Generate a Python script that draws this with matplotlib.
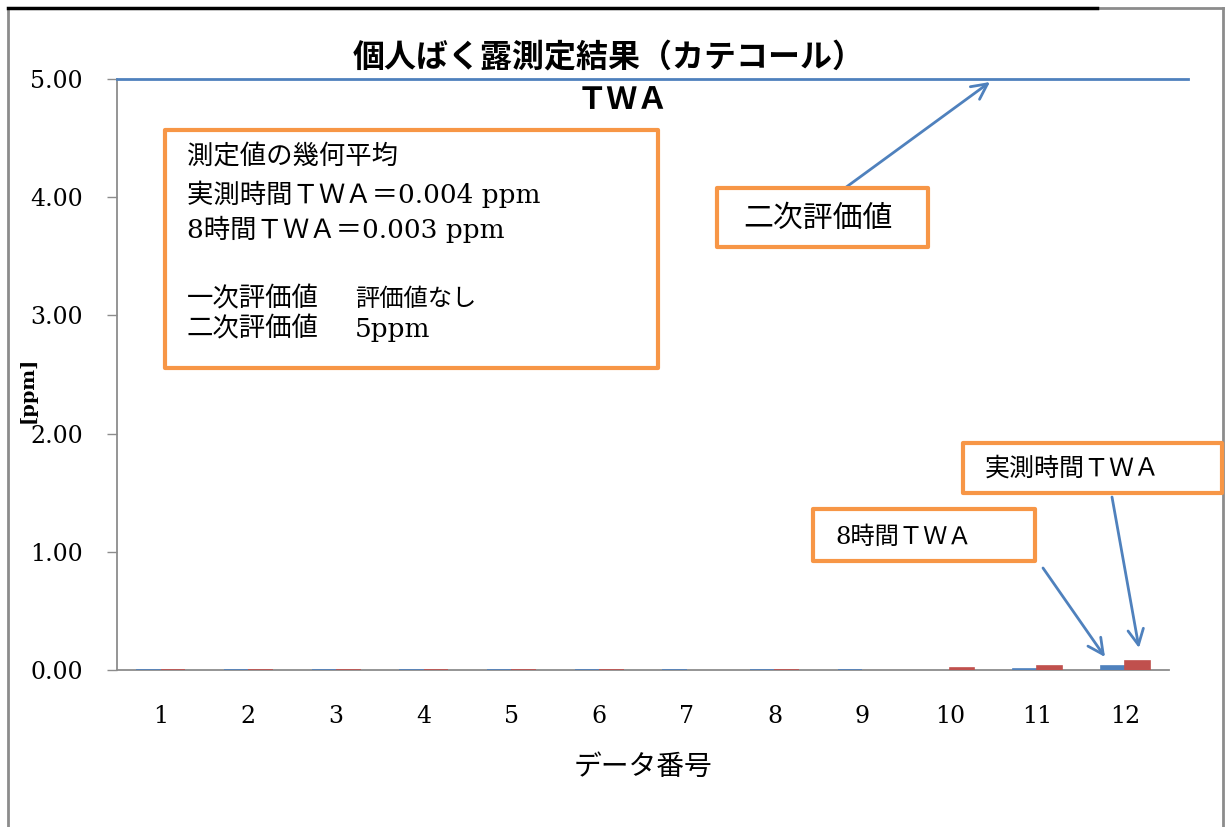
import matplotlib
matplotlib.use("Agg")
import matplotlib.pyplot as plt
import numpy as np
from matplotlib.patches import Rectangle
from matplotlib.lines import Line2D

# ---- data ----
categories = [str(i) for i in range(1, 13)]
twa_8h = [0.001, 0.001, 0.001, 0.001, 0.001, 0.001, 0.001, 0.001, 0.001, np.nan, 0.012, 0.036]      # 8時間TWA (blue)
twa_actual = [0.001, 0.001, 0.001, 0.001, 0.001, 0.001, np.nan, 0.001, np.nan, 0.013, 0.036, 0.079]  # 実測時間TWA (red)
secondary_limit = 5.0
y_ticks = [0.0, 1.0, 2.0, 3.0, 4.0, 5.0]

title_text = "個人ばく露測定結果（カテコール）"
subtitle_text = "ＴＷＡ"
xlabel_text = "データ番号"
ylabel_text = "[ppm]"

W, H = 1227, 827
SERIF_JP = ["DejaVu Serif", "Noto Sans CJK JP"]
JP = ["Noto Sans CJK JP", "DejaVu Sans"]
BLUE = "#4F81BD"
RED = "#C0504D"
ORANGE = "#F79646"
GREY = "#8C8C8C"

fig = plt.figure(figsize=(W / 100, H / 100), dpi=100)
fig.patch.set_facecolor("white")

def fx(px):
    return px / W

def fy(py):
    return 1 - py / H

ax = fig.add_axes([fx(117), fy(670), fx(1169) - fx(117), fy(79) - fy(670)])
x = np.arange(1, len(categories) + 1)
bw = 0.28
ax.bar(x - bw / 2, twa_8h, width=bw, color=BLUE, edgecolor=BLUE, linewidth=1.2, zorder=4)
ax.bar(x + bw / 2, twa_actual, width=bw, color=RED, edgecolor=RED, linewidth=1.2, zorder=4)

ax.set_xlim(0.5, len(categories) + 0.5)
ax.set_ylim(0, 5.0)
ax.set_yticks(y_ticks)
ax.set_yticklabels([f"{v:.2f}" for v in y_ticks], fontfamily="DejaVu Serif", fontsize=17)
ax.set_xticks(x)
ax.set_xticklabels(categories, fontfamily="DejaVu Serif", fontsize=17)
ax.tick_params(axis="y", direction="out", length=7.5, width=1.0, color=GREY, pad=17)
ax.tick_params(axis="x", length=0, pad=25)
for s in ["top", "right"]:
    ax.spines[s].set_visible(False)
for s in ["left", "bottom"]:
    ax.spines[s].set_color(GREY)
    ax.spines[s].set_linewidth(1.3)
ax.spines["bottom"].set_zorder(2.5)

# secondary evaluation line (5 ppm)
ax.axhline(secondary_limit, xmin=0, xmax=(1188 - 117) / (1169 - 117), color=BLUE,
           lw=2.0, clip_on=False, zorder=4)

# axis labels
fig.text(fx(28), fy(390), ylabel_text, rotation=90, ha="center", va="center",
         fontfamily="DejaVu Serif", fontweight="bold", fontsize=14)
fig.text(fx(643), fy(767), xlabel_text, ha="center", va="center",
         fontfamily=JP, fontsize=20)

# titles
fig.text(fx(609), fy(57), title_text, ha="center", va="center",
         fontfamily=JP, fontweight="bold", fontsize=23)
fig.text(fx(622), fy(100), subtitle_text, ha="center", va="center",
         fontfamily=JP, fontweight="bold", fontsize=22)

# frame
fig.add_artist(Line2D([fx(8), fx(8)], [fy(8), 0], color=GREY, lw=2.0))
fig.add_artist(Line2D([fx(1223), fx(1223)], [fy(8), 0], color=GREY, lw=2.0))
fig.add_artist(Line2D([fx(1095), fx(1223)], [fy(8), fy(8)], color=GREY, lw=2.0))
fig.add_artist(Line2D([fx(8), fx(1097)], [fy(8), fy(8)], color="black", lw=2.5))

def box(x0, y0, x1, y1):
    r = Rectangle((fx(x0), fy(y1)), fx(x1) - fx(x0), fy(y0) - fy(y1),
                  transform=fig.transFigure, facecolor="white", edgecolor=ORANGE,
                  lw=3.0, joinstyle="round", zorder=5)
    fig.add_artist(r)

# big info box
box(165, 130, 658, 368)
fs = 19
fig.text(fx(187), fy(157), "測定値の幾何平均", ha="left", va="center", fontfamily=SERIF_JP, fontsize=fs, zorder=6)
fig.text(fx(187), fy(194), "実測時間ＴＷＡ＝0.004 ppm", ha="left", va="center", fontfamily=SERIF_JP, fontsize=fs, zorder=6)
fig.text(fx(187), fy(229), "8時間ＴＷＡ＝0.003 ppm", ha="left", va="center", fontfamily=SERIF_JP, fontsize=fs, zorder=6)
fig.text(fx(187), fy(299), "一次評価値", ha="left", va="center", fontfamily=SERIF_JP, fontsize=fs, zorder=6)
fig.text(fx(355), fy(299), "評価値なし", ha="left", va="center", fontfamily=SERIF_JP, fontsize=17.5, zorder=6)
fig.text(fx(187), fy(329), "二次評価値", ha="left", va="center", fontfamily=SERIF_JP, fontsize=fs, zorder=6)
fig.text(fx(355), fy(329), "5ppm", ha="left", va="center", fontfamily=SERIF_JP, fontsize=fs, zorder=6)

# callout boxes
box(717, 188, 928, 247)
fig.text(fx(818), fy(218), "二次評価値", ha="center", va="center", fontfamily=JP, fontsize=21.5, zorder=6)
box(813, 509, 1035, 561)
fig.text(fx(835), fy(537), "8時間ＴＷＡ", ha="left", va="center", fontfamily=SERIF_JP, fontsize=17.5, zorder=6)
box(963, 443, 1222, 493)
fig.text(fx(985), fy(469), "実測時間ＴＷＡ", ha="left", va="center", fontfamily=SERIF_JP, fontsize=18, zorder=6)

# arrows
def arrow(x0, y0, x1, y1):
    ax.annotate("", xy=(x1, H - y1), xytext=(x0, H - y0),
                xycoords="figure pixels", textcoords="figure pixels",
                arrowprops=dict(arrowstyle="->", color=BLUE, lw=2.0, mutation_scale=28,
                                shrinkA=0, shrinkB=0), zorder=7, annotation_clip=False)

arrow(845, 188, 990, 82)
arrow(1043, 568, 1105, 657)
arrow(1112, 497, 1139, 648)

fig.savefig("out.png", dpi=100, facecolor="white")
